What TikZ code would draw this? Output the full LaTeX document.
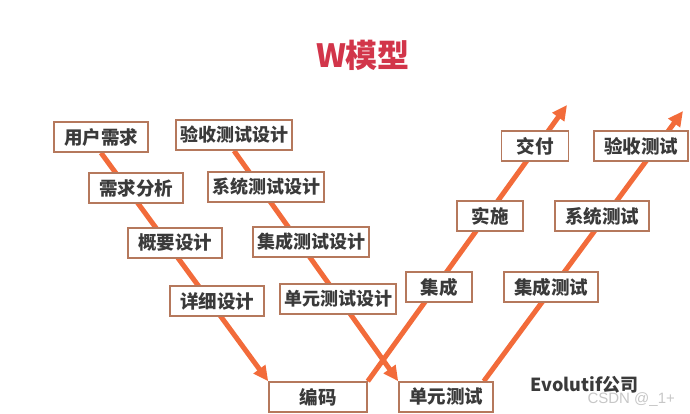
\documentclass[tikz,border=0pt]{standalone}
\usepackage{fontspec}
\newfontfamily\cjk{Noto Sans CJK SC}
\newfontfamily\wmfont{Liberation Sans}
\usepackage{tikz}
\usetikzlibrary{arrows.meta,backgrounds,calc}
\definecolor{lineor}{HTML}{F26B3A}
\definecolor{boxbr}{HTML}{B5785C}
\definecolor{titred}{HTML}{D2354A}
\definecolor{txtgr}{HTML}{3A3A3A}

\begin{document}
\begin{tikzpicture}[x=1pt,y=-1pt,>={Triangle[length=15pt,width=14pt]},
	box/.style={draw=boxbr,line width=1.6pt,fill=white,minimum height=30pt,
		inner xsep=10pt,text=txtgr,font=\cjk\bfseries\fontsize{18.5}{18.5}\selectfont},
	long/.style={inner xsep=4pt,font=\cjk\bfseries\fontsize{18}{18}\selectfont},
	arm/.style={draw=lineor,line width=5pt,->}]
	\useasboundingbox (0,0) rectangle (690,414);
	
	\node[text=titred,font=\cjk\bfseries\fontsize{32}{32}\selectfont] (title) at (363,55) {W模型};
	
	% left V
	\node[box] (ur) at (101,137) {用户需求};
	\node[box] (xq) at (136,188) {需求分析};
	\node[box] (gy) at (175,243) {概要设计};
	\node[box] (xx) at (217,301) {详细设计};
	\node[box,minimum width=98pt] (bm) at (318,397) {编码};
	
	% test design V
	\node[box,long] (ysj) at (234,135) {验收测试设计};
	\node[box,long] (xsj) at (266,187) {系统测试设计};
	\node[box,long] (jsj) at (311,242) {集成测试设计};
	\node[box,long] (dsj) at (338,299) {单元测试设计};
	\node[box] (dy) at (446,397) {单元测试};
	
	% rising arms
	\node[box,minimum width=66pt] (jc) at (439,287) {集成};
	\node[box,minimum width=66pt] (ss) at (490,216) {实施};
	\node[box,minimum width=67pt] (jf) at (535,146) {交付};
	\node[box] (jct) at (551,287) {集成测试};
	\node[box] (xt) at (602,216) {系统测试};
	\node[box] (ys) at (641,146) {验收测试};
	
	\coordinate (tipa) at (567,105);
	\coordinate (tipb) at (683,111);
	
	\begin{scope}[on background layer]
		\draw[arm] (ur.south) -- (bm.north west);
		\draw[arm] (ysj.south) -- (dy.north west);
		\draw[arm] (bm.north east) -- (tipa);
		\draw[arm] ($(dy.north east)+(-10,0)$) -- (tipb);
	\end{scope}
	
	\node[anchor=west,text=txtgr,font=\cjk\bfseries\fontsize{18}{18}\selectfont] (evo) at (527,385) {Evolutif公司};
	\node[anchor=west,text=black!22,font=\wmfont\fontsize{15}{15}\selectfont] (wm) at (584,400) {CSDN @\_1+};
\end{tikzpicture}
\end{document}
